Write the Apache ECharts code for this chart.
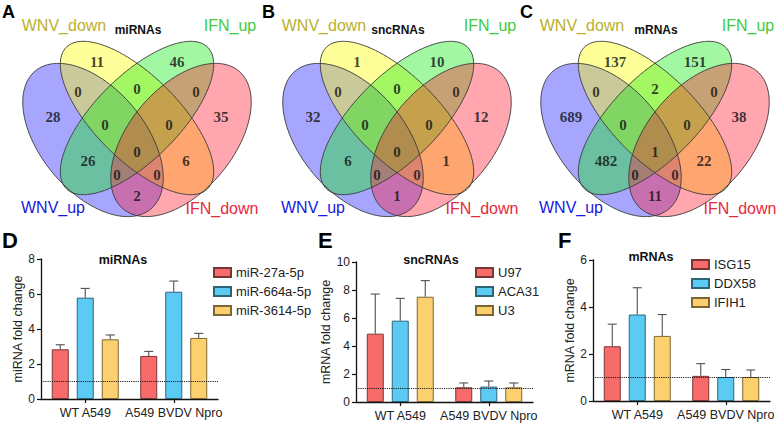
<!DOCTYPE html>
<html><head><meta charset="utf-8">
<script src="https://cdn.jsdelivr.net/npm/echarts@6/dist/echarts.min.js"></script>
<style>html,body{margin:0;padding:0;background:#fff;}#c{width:778px;height:423px;}</style>
</head><body><div id="c"></div>
<script>
// ================= DATA =================
const vennSets = ['WNV_up', 'WNV_down', 'IFN_up', 'IFN_down'];
const vennTitles = ['miRNAs', 'sncRNAs', 'mRNAs'];
const panelLetters = ['A', 'B', 'C', 'D', 'E', 'F'];
// region order: WNVdown only, IFNup only, WNVup∩WNVdown, WNVdown∩IFNup, IFNup∩IFNdown, WNVup only,
// WNVup∩WNVdown∩IFNup, WNVdown∩IFNup∩IFNdown, IFNdown only, all four, WNVup∩IFNup,
// WNVdown∩IFNdown, WNVup∩IFNup∩IFNdown, WNVup∩WNVdown∩IFNdown, WNVup∩IFNdown
const miRNACounts  = [11, 46, 0, 0, 0, 28, 0, 0, 35, 0, 26, 6, 0, 0, 2];
const sncRNACounts = [1, 10, 0, 0, 0, 32, 0, 0, 12, 0, 6, 1, 0, 0, 1];
const mRNACounts   = [137, 151, 0, 2, 0, 689, 0, 0, 38, 1, 482, 22, 0, 0, 11];

const groups = ['WT A549', 'A549 BVDV Npro'];

const miRNANames = ['miR-27a-5p', 'miR-664a-5p', 'miR-3614-5p'];
const mir27a = [2.84, 2.46];     const mir27aErr = [0.26, 0.26];
const mir664a = [5.79, 6.13];    const mir664aErr = [0.53, 0.61];
const mir3614 = [3.41, 3.49];    const mir3614Err = [0.25, 0.26];

const sncRNANames = ['U97', 'ACA31', 'U3'];
const u97 = [4.88, 1.05];        const u97Err = [2.83, 0.31];
const aca31 = [5.81, 1.10];      const aca31Err = [1.59, 0.40];
const u3 = [7.52, 1.05];         const u3Err = [1.15, 0.31];

const mRNANames = ['ISG15', 'DDX58', 'IFIH1'];
const isg15 = [2.33, 1.07];      const isg15Err = [0.94, 0.52];
const ddx58 = [3.68, 1.02];      const ddx58Err = [1.14, 0.32];
const ifih1 = [2.77, 1.02];      const ifih1Err = [0.91, 0.30];

const yTicksD = [0, 2, 4, 6, 8];
const yTicksE = [0, 2, 4, 6, 8, 10];
const yTicksF = [0, 2, 4, 6];

// ================= LAYOUT / STYLE =================
const vennOffsets = [0, 260, 518];
const regionPos = [[97,62],[177,62],[78,92],[137,89],[196,92],[53,117],[105,125],[169,125],[221,117],[137,152],[88,161],[186,161],[117,175],[157,175],[137,196]];
// cx, cy, a, b, angle(deg) : WNV_up, WNV_down, IFN_up, IFN_down
const ellipseGeom = [[93,140,90,52,50],[137,118,100,42,45],[137,118,100,42,-45],[181,140,90,52,-50]];
const ellipseFill = ['rgba(20,20,255,0.38)','rgba(255,255,0,0.4)','rgba(10,235,10,0.38)','rgba(255,20,45,0.38)'];
const setLabelPos = [[53,207],[64,25],[230,25],[222,208]];
const setLabelColor = ['#1818e0','#b9b02e','#3fcc3a','#e8283c'];
const barColors = ['#f76b6b','#5ccbf4','#fcd06e'];
const barBorders = ['#7a3535','#2d6478','#7d6632'];
const SANS = '"Liberation Sans", Arial, Helvetica, sans-serif';

const vennCounts = [miRNACounts, sncRNACounts, mRNACounts];
const barSets = [
  {names: miRNANames, means: [mir27a, mir664a, mir3614], errs: [mir27aErr, mir664aErr, mir3614Err], ticks: yTicksD,
   yName: 'miRNA fold change', title: 'miRNAs', grid: {left: 41, top: 259, width: 177, height: 140}, titleXY: [123, 260], legend: {left: 213, top: 266}},
  {names: sncRNANames, means: [u97, aca31, u3], errs: [u97Err, aca31Err, u3Err], ticks: yTicksE,
   yName: 'mRNA fold change', title: 'sncRNAs', grid: {left: 356, top: 262, width: 177, height: 140}, titleXY: [431, 260], legend: {left: 475, top: 266}},
  {names: mRNANames, means: [isg15, ddx58, ifih1], errs: [isg15Err, ddx58Err, ifih1Err], ticks: yTicksF,
   yName: 'mRNA fold change', title: 'mRNAs', grid: {left: 593, top: 260, width: 177, height: 141}, titleXY: [651, 257], legend: {left: 691, top: 258}}
];

// ================= BUILD =================
const chart = echarts.init(document.getElementById('c'), null, {renderer: 'svg', width: 778, height: 423});

const grids = [{left: 0, top: 0, width: 778, height: 423, outerBoundsMode: 'none'}];
const xAxes = [{type: 'value', gridIndex: 0, min: 0, max: 778, show: false}];
const yAxes = [{type: 'value', gridIndex: 0, min: 0, max: 423, inverse: true, show: false}];
const series = [];
const legends = [];
const graphics = [];

function ellipseRender(fillMode) {
  return function (params, api) {
    const p = api.value(0), e = api.value(1);
    const g = ellipseGeom[e], off = vennOffsets[p];
    const r = g[4] * Math.PI / 180, pts = [];
    for (let i = 0; i < 120; i++) {
      const t = i / 120 * 2 * Math.PI;
      const x = g[0] + off + g[2] * Math.cos(t) * Math.cos(r) - g[3] * Math.sin(t) * Math.sin(r);
      const y = g[1] + g[2] * Math.cos(t) * Math.sin(r) + g[3] * Math.sin(t) * Math.cos(r);
      pts.push(api.coord([x, y]));
    }
    return {type: 'polygon', shape: {points: pts},
      style: fillMode ? {fill: ellipseFill[e], stroke: null} : {fill: 'none', stroke: '#3a3a3a', lineWidth: 0.9}};
  };
}
const ellData = [];
for (let p = 0; p < 3; p++) for (let e = 0; e < 4; e++) ellData.push([p, e]);
series.push({type: 'custom', xAxisIndex: 0, yAxisIndex: 0, data: ellData, renderItem: ellipseRender(true), silent: true, z: 1});
series.push({type: 'custom', xAxisIndex: 0, yAxisIndex: 0, data: ellData, renderItem: ellipseRender(false), silent: true, z: 2});

const countData = [];
vennCounts.forEach((counts, p) => counts.forEach((c, i) => countData.push([regionPos[i][0] + vennOffsets[p], regionPos[i][1], c])));
series.push({type: 'scatter', xAxisIndex: 0, yAxisIndex: 0, data: countData, symbolSize: 1, itemStyle: {color: 'rgba(0,0,0,0)'}, z: 5, silent: true,
  label: {show: true, position: 'inside', formatter: p => String(p.value[2]), fontFamily: '"Liberation Serif", "Times New Roman", serif', fontWeight: 'bold', fontSize: 15, color: '#111'}});

function txt(x, y, text, size, weight, color, align, valign, rot) {
  const el = {type: 'text', x: x, y: y, z: 10, silent: true,
    style: {text: text, fontSize: size, fontWeight: weight, fontFamily: SANS, fill: color,
      textAlign: align, textVerticalAlign: valign, align: align, verticalAlign: valign}};
  if (rot) el.rotation = rot;
  return el;
}
vennOffsets.forEach((off, p) => {
  graphics.push(txt(off + 2, 12, panelLetters[p], 18, 'bold', '#000', 'left', 'middle'));
  graphics.push(txt(off + 138, 30, vennTitles[p], 12, 'bold', '#111', 'center', 'middle'));
  vennSets.forEach((s, k) => graphics.push(txt(off + setLabelPos[k][0], setLabelPos[k][1], s, 16, 'normal', setLabelColor[k], 'center', 'middle')));
});
[[2, 240], [318, 240], [558, 240]].forEach((xy, k) => graphics.push(txt(xy[0], xy[1], panelLetters[3 + k], 22, 'bold', '#000', 'left', 'middle')));

barSets.forEach((b, k) => {
  const gi = k + 1;
  grids.push(Object.assign({outerBoundsMode: 'none', containLabel: false}, b.grid));
  xAxes.push({type: 'category', gridIndex: gi, data: groups,
    axisLine: {show: true, lineStyle: {color: '#111', width: 1.3}},
    axisTick: {show: true, alignWithLabel: true, length: 4, lineStyle: {color: '#111', width: 1.2}},
    axisLabel: {interval: 0, hideOverlap: false, fontSize: 12.5, color: '#222', margin: 7, fontFamily: SANS}, splitLine: {show: false}});
  const maxV = b.ticks[b.ticks.length - 1];
  yAxes.push({type: 'value', gridIndex: gi, min: b.ticks[0], max: maxV, interval: b.ticks[1] - b.ticks[0],
    name: b.yName, nameLocation: 'middle', nameGap: 16, nameRotate: 90,
    nameTextStyle: {fontSize: 12.5, color: '#222', fontFamily: SANS},
    axisLine: {show: true, lineStyle: {color: '#111', width: 1.3}},
    axisTick: {show: true, length: 4, lineStyle: {color: '#111', width: 1.2}},
    axisLabel: {fontSize: 12, color: '#222', margin: 6, fontFamily: SANS}, splitLine: {show: false}});
  b.names.forEach((nm, s) => {
    const ser = {type: 'bar', name: nm, xAxisIndex: gi, yAxisIndex: gi, data: b.means[s], barWidth: 17, barGap: '47%',
      itemStyle: {color: barColors[s], borderColor: barBorders[s], borderWidth: 1}, z: 3};
    if (s === 0) ser.markLine = {silent: true, symbol: 'none', label: {show: false}, lineStyle: {type: 'dotted', color: '#111', width: 1.1},
      data: [{yAxis: 1}], z: 6};
    series.push(ser);
  });
  const eData = [];
  b.means.forEach((arr, s) => arr.forEach((v, c) => eData.push([c, v, b.errs[s][c], s])));
  series.push({type: 'custom', xAxisIndex: gi, yAxisIndex: gi, data: eData, z: 2, silent: true,
    renderItem: function (params, api) {
      const c = api.value(0), m = api.value(1), er = api.value(2), s = api.value(3);
      const base = api.coord([c, m]), top = api.coord([c, m + er]);
      const x = base[0] + (s - 1) * 25;
      const st = {stroke: '#505050', lineWidth: 1.1};
      return {type: 'group', children: [
        {type: 'line', shape: {x1: x, y1: base[1], x2: x, y2: top[1]}, style: st},
        {type: 'line', shape: {x1: x - 4.5, y1: top[1], x2: x + 4.5, y2: top[1]}, style: st}]};
    }});
  legends.push({show: true, orient: 'vertical', left: b.legend.left, top: b.legend.top, padding: 0, itemGap: 6,
    itemWidth: 17, itemHeight: 9, icon: 'rect', data: b.names, selectedMode: false,
    textStyle: {fontSize: 13, color: '#222', fontFamily: SANS, lineHeight: 13, padding: [0, 0, 0, 0]}});
  graphics.push(txt(b.titleXY[0], b.titleXY[1], b.title, 12.5, 'bold', '#111', 'center', 'middle'));
});

chart.setOption({
  animation: false,
  backgroundColor: '#fff',
  grid: grids, xAxis: xAxes, yAxis: yAxes, series: series, legend: legends,
  graphic: {elements: graphics}
});
</script></body></html>
